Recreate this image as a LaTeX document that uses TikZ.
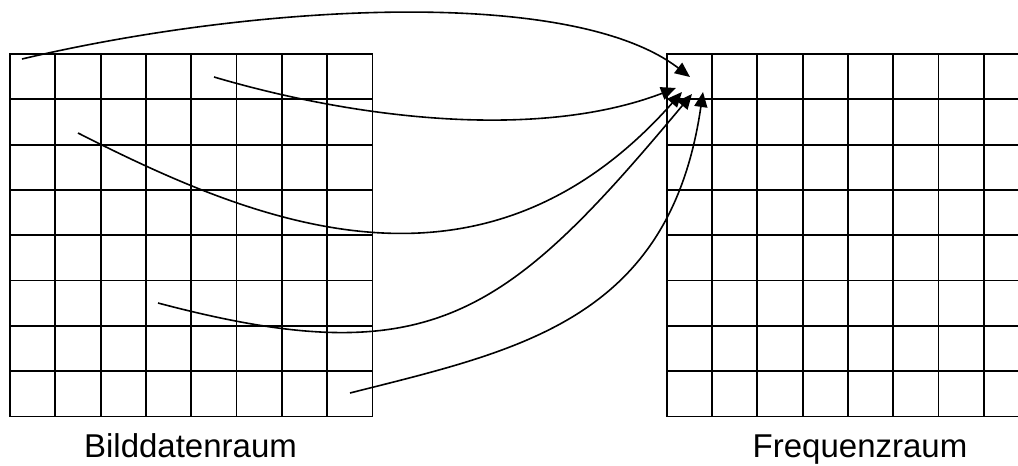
\documentclass[tikz,border=0pt]{standalone}
\usepackage{fontspec}
\setmainfont{Liberation Sans}
\usetikzlibrary{arrows.meta}
\begin{document}
\begin{tikzpicture}[
  x=1pt, y=-1pt,
  gridline/.style={line width=1.8pt, line cap=rect},
  link/.style={line width=1.6pt, -{Triangle[length=15pt, width=13pt]}},
  caption/.style={font=\fontsize{33}{40}\selectfont, anchor=base, inner sep=0pt}]
  \clip (0,0) rectangle (1018,466);
  \useasboundingbox (0,0) rectangle (1018,466);
  % Left grid: image data
  \foreach \i in {0,...,8} {
    \draw[gridline] (10+45.3*\i, 54) -- (10+45.3*\i, 416.4);
    \draw[gridline] (10, 54+45.3*\i) -- (372.4, 54+45.3*\i);
  }
  % Right grid: frequencies (runs past the edge)
  \foreach \i in {0,...,8} {
    \draw[gridline] (666.7+45.3*\i, 54) -- (666.7+45.3*\i, 416.4);
    \draw[gridline] (666.7, 54+45.3*\i) -- (1029.1, 54+45.3*\i);
  }
  % Start and end points
  \coordinate (px1) at (22,59);
  \coordinate (px2) at (214,77);
  \coordinate (px3) at (78,133);
  \coordinate (px4) at (158,303);
  \coordinate (px5) at (350,393);
  \coordinate (fq1) at (690,77);
  \coordinate (fq2) at (676,88);
  \coordinate (fq3) at (682,92);
  \coordinate (fq4) at (692,94);
  \coordinate (fq5) at (703,92);
  % Connectors
  \draw[link] (px1) .. controls (250,5) and (570,-15) .. (fq1);
  \draw[link] (px2) .. controls (360,120) and (540,140) .. (fq2);
  \draw[link] (px3) .. controls (250,220) and (480,320) .. (fq3);
  \draw[link] (px4) .. controls (430,375) and (505,318) .. (fq4);
  \draw[link] (px5) .. controls (520,350) and (670,320) .. (fq5);
  % Captions
  \node[caption] (bild) at (190.5,457) {Bilddatenraum};
  \node[caption] (freq) at (860,457) {Frequenzraum};
\end{tikzpicture}
\end{document}
